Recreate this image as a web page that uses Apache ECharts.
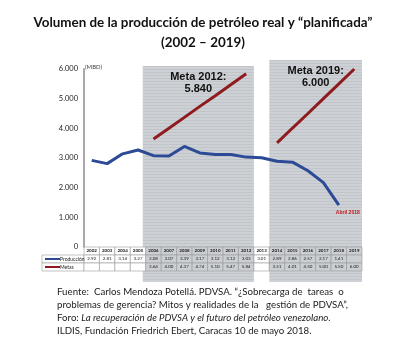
<!DOCTYPE html>
<html><head><meta charset="utf-8">
<script src="https://cdn.jsdelivr.net/npm/echarts@6/dist/echarts.min.js"></script>
<style>html,body{margin:0;padding:0;background:#fff}#c{width:406px;height:351px}</style>
</head><body><div id="c"></div>
<script>
var years = ['2002','2003','2004','2005','2006','2007','2008','2009','2010','2011','2012','2013','2014','2015','2016','2017','2018','2019'];
var produccion = [2920,2810,3140,3270,3080,3070,3390,3170,3120,3120,3030,3010,2890,2860,2570,2170,1410,null];
var metas = [null,null,null,null,3640,4000,4370,4740,5100,5470,5840,null,3510,4010,4500,5000,5500,6000];
var yTicks = ['0','1.000','2.000','3.000','4.000','5.000','6.000'];
var shadePeriods = [['2006','2012'],['2014','2019']];
var metaLabels = [['Meta 2012:','5.840'],['Meta 2019:','6.000']];

var pc = document.createElement('canvas'); pc.width = 4; pc.height = 3;
var pctx = pc.getContext('2d');
pctx.fillStyle = '#cdd1d5'; pctx.fillRect(0,0,4,3);
pctx.fillStyle = '#c1c5c9'; pctx.fillRect(0,0,4,1);
var shadeFill = {image: pc, repeat: 'repeat'};

var chart = echarts.init(document.getElementById('c'), null, {renderer:'canvas'});
var option = {
  backgroundColor:'#fff',
  animation:false,
  grid:{left:84,right:44,top:69,bottom:104},
  xAxis:{type:'category',data:years,boundaryGap:true,
    axisLine:{show:false},axisTick:{show:false},axisLabel:{show:false}},
  yAxis:{type:'value',min:0,max:6000,interval:1000,
    axisLine:{show:true,lineStyle:{color:'#a8a8a8',width:2}},
    axisTick:{show:false},splitLine:{show:false},
    axisLabel:{formatter:function(v){return yTicks[v/1000];},fontFamily:'Lato',fontSize:7.5,color:'#222',margin:6}},
  series:[
    {name:'Producción',type:'line',data:produccion,showSymbol:false,z:5,
      lineStyle:{color:'#2d4a96',width:3}},
    {name:'Metas',type:'line',data:metas,showSymbol:false,connectNulls:false,z:5,
      lineStyle:{color:'#8e1c1f',width:3}}
  ]
};
chart.setOption(option);

function px(i){return chart.convertToPixel({xAxisIndex:0},i);}
function py(v){return chart.convertToPixel({yAxisIndex:0},v);}
var bw = px(1)-px(0);
var x0 = px(0)-bw/2;
var yBase = py(0);
var g = [];
shadePeriods.forEach(function(p,k){
  var a = years.indexOf(p[0]), b = years.indexOf(p[1]);
  var left = px(a)-bw/2 - (k===0?3:0), right = px(b)+bw/2;
  var top = k===0 ? py(6000)-3 : py(6000)-9;
  g.push({type:'rect',shape:{x:left,y:top,width:right-left,height:282-top},
    style:{fill:shadeFill},z:0,silent:true});
  var cx = (left+right)/2;
  g.push({type:'text',x:cx,y:top+5,style:{text:metaLabels[k][0]+'\n'+metaLabels[k][1],
    fill:'#111',font:'bold 11px "Liberation Sans", Arial',align:'center',verticalAlign:'top',lineHeight:12},z:10});
});
g.push({type:'text',x:x0+1,y:py(6000)-5,style:{text:'(MBD)',fill:'#444',font:'6px Lato',align:'left',verticalAlign:'top'},z:10});
var i18 = years.indexOf('2018');
g.push({type:'text',x:px(i18)-3,y:py(produccion[i18])+5,style:{text:'Abril 2018',fill:'#c0141c',font:'bold 5px "Liberation Sans", Arial',align:'left',verticalAlign:'top'},z:10});
var rowH = 8, tTop = yBase, labL = 42;
var rows = [years, produccion.map(function(v){return v==null?'':(v/1000).toFixed(2);}), metas.map(function(v){return v==null?'':(v/1000).toFixed(2);})];
for(var r=0;r<3;r++){
  var y = tTop + r*rowH;
  if(r>0){
    g.push({type:'rect',shape:{x:labL,y:y,width:x0-labL,height:rowH},style:{fill:'#fff',stroke:'#9a9a9a',lineWidth:0.6},z:3});
    g.push({type:'line',shape:{x1:labL+3,y1:y+rowH/2,x2:labL+18,y2:y+rowH/2},style:{stroke:r===1?'#2d4a96':'#8e1c1f',lineWidth:2},z:4});
    g.push({type:'text',x:labL+18,y:y+rowH/2,style:{text:r===1?'Producción':'Metas',fill:'#222',font:'5px Lato',align:'left',verticalAlign:'middle'},z:4});
  }
  for(var i=0;i<years.length;i++){
    var cl = px(i)-bw/2;
    var shaded = (i>=4&&i<=10)||(i>=12);
    g.push({type:'rect',shape:{x:cl,y:y,width:bw,height:rowH},style:{fill:shaded?'#cbcfd3':'#fff',stroke:'#9a9a9a',lineWidth:0.6},z:3});
    g.push({type:'text',x:px(i),y:y+rowH/2,style:{text:rows[r][i],fill:'#222',font:(r===0?'bold ':'')+'4.5px Lato',align:'center',verticalAlign:'middle'},z:4});
  }
}
g.push({type:'text',x:203,y:13,style:{text:'Volumen de la producción de petróleo real y “planificada”\n(2002 – 2019)',
  fill:'#111',font:'bold 13.4px Lato',align:'center',verticalAlign:'top',lineHeight:20},z:10});
g.push({type:'text',x:57,y:286,style:{
  text:'Fuente:  Carlos Mendoza Potellá. PDVSA. “¿Sobrecarga de  tareas  o\nproblemas de gerencia? Mitos y realidades de la   gestión de PDVSA”,\n{n|Foro: }{i|La recuperación de PDVSA y el futuro del petróleo venezolano.}\nILDIS, Fundación Friedrich Ebert, Caracas 10 de mayo 2018.',
  fill:'#222',font:'9.7px Lato',align:'left',verticalAlign:'top',lineHeight:12.7,
  rich:{n:{font:'9.7px Lato',fill:'#222'},i:{font:'italic 9.7px Lato',fill:'#222'}}},z:10});
chart.setOption({graphic:{elements:g}});
</script></body></html>
